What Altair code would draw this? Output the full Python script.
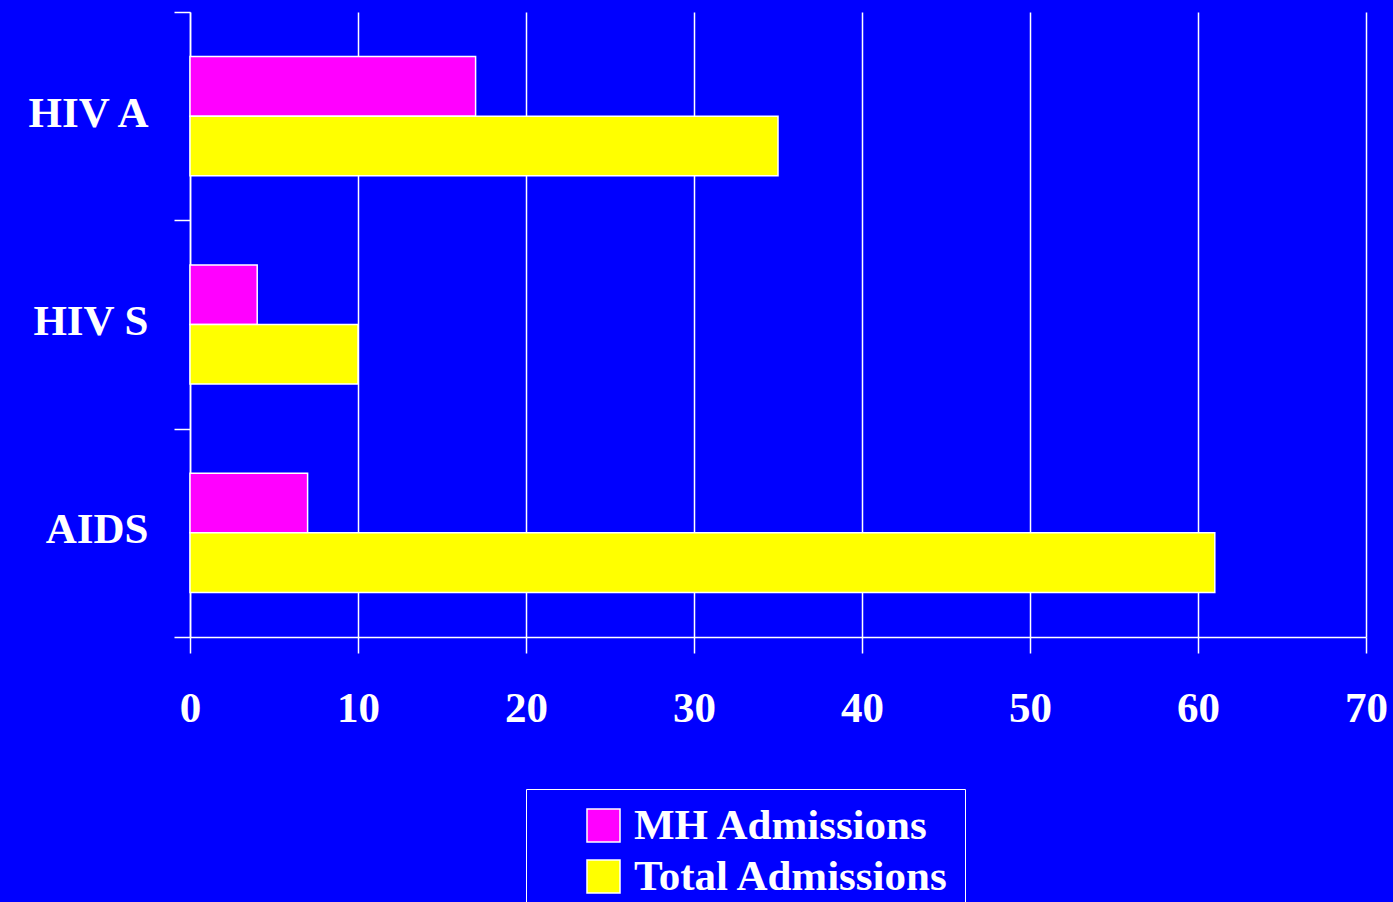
import altair as alt
import pandas as pd

categories = ["HIV A", "HIV S", "AIDS"]
series = ["MH Admissions", "Total Admissions"]
mh_admissions = [17, 4, 7]
total_admissions = [35, 10, 61]
x_ticks = [0, 10, 20, 30, 40, 50, 60, 70]
colors = ["#FF00FF", "#FFFF00"]

rows = []
for cat, mh, tot in zip(categories, mh_admissions, total_admissions):
    rows.append({"group": cat, "series": series[0], "value": mh})
    rows.append({"group": cat, "series": series[1], "value": tot})
df = pd.DataFrame(rows)

FONT = "Liberation Serif"
SIZE = 43

bars = alt.Chart(df).mark_bar(stroke="white", strokeWidth=1.5).encode(
    x=alt.X(
        "value:Q",
        scale=alt.Scale(domain=[0, 70], nice=False, zero=True),
        axis=alt.Axis(
            values=x_ticks,
            title=None,
            grid=True,
            gridColor="white",
            gridWidth=1.5,
            gridOpacity=1,
            domainColor="white",
            domainWidth=1.5,
            tickColor="white",
            tickWidth=1.5,
            tickSize=16,
            labelColor="white",
            labelFont=FONT,
            labelFontSize=SIZE,
            labelFontWeight="bold",
            labelPadding=34,
            labelFlush=False,
        ),
    ),
    y=alt.Y(
        "group:N",
        sort=categories,
        # full-height bands so the ticks fall between the groups
        scale=alt.Scale(paddingInner=0, paddingOuter=0),
        axis=alt.Axis(
            title=None,
            grid=False,
            tickBand="extent",
            domainColor="white",
            domainWidth=1.5,
            tickColor="white",
            tickWidth=1.5,
            tickSize=16,
            labelColor="white",
            labelFont=FONT,
            labelFontSize=SIZE,
            labelFontWeight="bold",
            labelPadding=26,
            labelOffset=-3,
            labelLimit=400,
        ),
    ),
    yOffset=alt.YOffset(
        "series:N",
        sort=series,
        # the pair of bars sits in the middle of each band
        scale=alt.Scale(paddingInner=0, paddingOuter=0.7475),
    ),
    color=alt.Color(
        "series:N",
        scale=alt.Scale(domain=series, range=colors),
        legend=alt.Legend(
            title=None,
            orient="none",
            legendX=336,
            legendY=777,
            padding=15,
            strokeColor="white",
            symbolType="square",
            symbolSize=1089,
            symbolStrokeColor="white",
            symbolStrokeWidth=1.5,
            symbolOffset=41,
            labelOffset=9,
            labelColor="white",
            labelFont=FONT,
            labelFontSize=SIZE,
            labelFontWeight="bold",
            labelLimit=600,
            rowPadding=7,
        ),
    ),
)

chart = bars.properties(
    width=1176,
    height=625,
    background="#0000FF",
    autosize=alt.AutoSizeParams(type="none"),
    padding={"left": 190, "top": 12, "right": 27, "bottom": 265},
).configure_view(strokeWidth=0)

chart.save("out.html", embed_options={"renderer": "svg", "actions": False})
